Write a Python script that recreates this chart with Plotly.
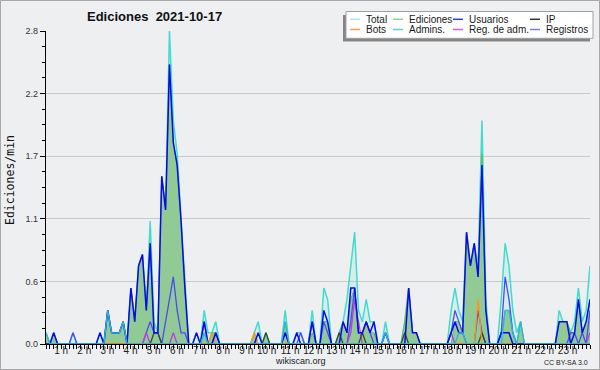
import plotly.graph_objects as go

# 10-minute buckets, value = edits per minute
minutes = list(range(0, 1420, 10))  # 0h00 .. 23h30

total = [
    0.1, 0, 0.1, 0, 0, 0, 0, 0.1, 0, 0, 0, 0,
    0, 0, 0.1, 0, 0.3, 0.1, 0.1, 0.1, 0.2, 0, 0.5, 0.2,
    0.7, 0.8, 0.3, 1.1, 0.2, 0.1, 1.5, 1.2, 2.8, 2.0, 1.7, 1.1,
    0.5, 0, 0, 0.1, 0, 0.3, 0.1, 0.1, 0.2, 0, 0, 0,
    0, 0, 0, 0, 0, 0, 0.1, 0.2, 0, 0.1, 0, 0,
    0, 0, 0.3, 0, 0, 0.1, 0.1, 0, 0, 0.3, 0, 0,
    0.5, 0.4, 0, 0, 0.1, 0.2, 0.4, 0.7, 1.0, 0.3, 0.2, 0.4,
    0.2, 0.2, 0, 0, 0.2, 0, 0, 0, 0, 0.2, 0.5, 0.1,
    0.1, 0, 0, 0, 0, 0, 0, 0, 0, 0.3, 0.5, 0.3,
    0.2, 1.0, 0.7, 0.9, 0.7, 2.0, 0.4, 0, 0, 0, 0.4, 0.9,
    0.7, 0.3, 0.1, 0.2, 0, 0, 0, 0, 0, 0, 0, 0,
    0, 0.3, 0.2, 0.2, 0.1, 0.2, 0.5, 0.2, 0.3, 0.7,
]
ediciones = [
    0.1, 0, 0.1, 0, 0, 0, 0, 0, 0, 0, 0, 0,
    0, 0, 0, 0, 0.3, 0.1, 0.1, 0.1, 0.2, 0, 0.5, 0.2,
    0.7, 0.8, 0.3, 0.9, 0.1, 0.1, 1.5, 1.2, 2.5, 1.8, 1.6, 1.1,
    0.5, 0, 0, 0, 0, 0.1, 0, 0.1, 0.1, 0, 0, 0,
    0, 0, 0, 0, 0, 0, 0.1, 0, 0, 0.1, 0, 0,
    0, 0, 0.2, 0, 0, 0, 0, 0, 0, 0.1, 0, 0,
    0.2, 0.2, 0, 0, 0.1, 0.2, 0.1, 0.4, 0.5, 0.1, 0.1, 0.2,
    0.1, 0.1, 0, 0, 0, 0, 0, 0, 0, 0.2, 0.5, 0.1,
    0.1, 0, 0, 0, 0, 0, 0, 0, 0, 0, 0.2, 0.2,
    0.1, 0.9, 0.7, 0.9, 0.6, 1.7, 0.3, 0, 0, 0, 0.1, 0.3,
    0.3, 0.1, 0, 0.2, 0, 0, 0, 0, 0, 0, 0, 0,
    0, 0.2, 0.2, 0.2, 0.1, 0.1, 0.4, 0.1, 0.2, 0.4,
]
usuarios = [
    0, 0, 0.1, 0, 0, 0, 0, 0, 0, 0, 0, 0,
    0, 0, 0.1, 0, 0.3, 0.1, 0.1, 0.1, 0.2, 0, 0.5, 0.2,
    0.7, 0.8, 0.3, 0.9, 0.1, 0.1, 1.5, 1.2, 2.5, 1.8, 1.6, 1.1,
    0.5, 0, 0, 0.1, 0, 0.2, 0, 0, 0.1, 0, 0, 0,
    0, 0, 0, 0, 0, 0, 0, 0.1, 0, 0, 0, 0,
    0, 0, 0.1, 0, 0, 0.1, 0, 0, 0, 0.2, 0, 0,
    0.3, 0.2, 0, 0, 0, 0.2, 0.1, 0.5, 0.5, 0.1, 0.1, 0.2,
    0.1, 0.2, 0, 0, 0.1, 0, 0, 0, 0, 0, 0.5, 0.1,
    0.1, 0, 0, 0, 0, 0, 0, 0, 0, 0.1, 0.2, 0.1,
    0.1, 1.0, 0.7, 0.9, 0.6, 1.6, 0.3, 0, 0, 0, 0.1, 0.1,
    0.1, 0, 0, 0, 0, 0, 0, 0, 0, 0, 0, 0,
    0, 0.2, 0.2, 0.2, 0, 0.1, 0.4, 0.1, 0.2, 0.4,
]
ip = [
    0, 0, 0, 0, 0, 0, 0, 0, 0, 0, 0, 0,
    0, 0, 0, 0, 0, 0, 0, 0, 0, 0, 0, 0,
    0, 0, 0, 0, 0.1, 0.1, 0, 0, 0, 0, 0, 0,
    0, 0, 0, 0, 0, 0, 0, 0, 0, 0, 0, 0,
    0, 0, 0, 0, 0, 0, 0, 0, 0, 0.1, 0, 0,
    0, 0, 0, 0, 0, 0, 0, 0, 0, 0, 0, 0,
    0, 0, 0, 0, 0.1, 0, 0, 0, 0, 0, 0.1, 0,
    0, 0, 0, 0, 0, 0, 0, 0, 0, 0.1, 0, 0,
    0, 0, 0, 0, 0, 0, 0, 0, 0, 0, 0, 0,
    0, 0, 0, 0, 0, 0.1, 0, 0, 0, 0, 0, 0,
    0, 0, 0, 0, 0, 0, 0, 0, 0, 0, 0, 0,
    0, 0, 0, 0, 0, 0, 0, 0, 0, 0,
]
bots = [
    0, 0, 0, 0, 0, 0, 0, 0, 0, 0, 0, 0,
    0, 0, 0, 0, 0, 0, 0, 0, 0, 0, 0, 0,
    0, 0, 0, 0, 0, 0, 0, 0, 0, 0, 0, 0,
    0, 0, 0, 0, 0, 0, 0, 0.1, 0, 0, 0, 0,
    0, 0, 0, 0, 0, 0, 0.1, 0, 0, 0, 0, 0,
    0, 0, 0, 0, 0, 0, 0, 0, 0, 0, 0, 0,
    0, 0, 0, 0, 0, 0, 0, 0, 0, 0, 0, 0,
    0, 0, 0, 0, 0, 0, 0, 0, 0, 0, 0, 0,
    0, 0, 0, 0, 0, 0, 0, 0, 0, 0, 0, 0,
    0, 0, 0, 0, 0.4, 0, 0, 0, 0, 0, 0, 0,
    0, 0, 0, 0, 0, 0, 0, 0, 0, 0, 0, 0,
    0, 0, 0, 0, 0, 0, 0, 0, 0, 0,
]
admins = [
    0.1, 0, 0, 0, 0, 0, 0, 0, 0, 0, 0, 0,
    0, 0, 0, 0, 0.3, 0.1, 0.1, 0.1, 0.2, 0, 0, 0,
    0, 0, 0, 0, 0, 0, 0, 0, 0, 0, 0, 0,
    0, 0, 0, 0, 0, 0.1, 0, 0, 0, 0, 0, 0,
    0, 0, 0, 0, 0, 0, 0, 0, 0, 0, 0, 0,
    0, 0, 0.2, 0, 0, 0, 0, 0, 0, 0, 0, 0,
    0, 0, 0, 0, 0, 0, 0, 0, 0, 0, 0, 0,
    0, 0, 0, 0, 0.1, 0, 0, 0, 0, 0, 0, 0,
    0, 0, 0, 0, 0, 0, 0, 0, 0, 0, 0, 0.1,
    0.1, 0, 0, 0, 0, 0, 0, 0, 0, 0, 0, 0.3,
    0.3, 0.1, 0, 0.2, 0, 0, 0, 0, 0, 0, 0, 0,
    0, 0, 0, 0, 0, 0, 0, 0, 0, 0,
]
reg_adm = [
    0, 0, 0, 0, 0, 0, 0, 0, 0, 0, 0, 0,
    0, 0, 0, 0, 0, 0, 0, 0, 0, 0, 0, 0,
    0, 0, 0.1, 0, 0, 0, 0, 0, 0, 0.1, 0, 0,
    0, 0, 0, 0, 0, 0, 0, 0, 0, 0, 0, 0,
    0, 0, 0, 0, 0, 0, 0, 0, 0, 0, 0, 0,
    0, 0, 0, 0, 0, 0, 0, 0, 0, 0, 0, 0,
    0, 0, 0, 0, 0, 0, 0, 0.1, 0.4, 0.2, 0, 0,
    0, 0, 0, 0, 0, 0, 0, 0, 0, 0, 0, 0,
    0, 0, 0, 0, 0, 0, 0, 0, 0, 0.1, 0, 0,
    0, 0, 0, 0, 0, 0, 0, 0, 0, 0, 0, 0,
    0, 0, 0, 0, 0, 0, 0, 0, 0, 0, 0, 0,
    0, 0, 0, 0, 0, 0, 0, 0, 0, 0.1,
]
registros = [
    0, 0, 0, 0, 0, 0, 0, 0.1, 0, 0, 0, 0,
    0, 0, 0, 0, 0, 0, 0, 0, 0, 0, 0, 0,
    0, 0, 0.1, 0.2, 0.1, 0.1, 0, 0.2, 0.4, 0.6, 0.3, 0.1,
    0.1, 0, 0, 0, 0, 0.2, 0, 0, 0.1, 0, 0, 0,
    0, 0, 0, 0, 0, 0, 0, 0, 0, 0, 0, 0,
    0, 0, 0.1, 0, 0, 0, 0.1, 0, 0, 0.2, 0, 0,
    0.2, 0.1, 0, 0, 0, 0, 0, 0.2, 0.5, 0.1, 0.1, 0.2,
    0.1, 0, 0, 0, 0, 0, 0, 0, 0, 0, 0, 0,
    0, 0, 0, 0, 0, 0, 0, 0, 0, 0.1, 0.3, 0.2,
    0.1, 0, 0, 0, 0.3, 0.1, 0, 0, 0, 0, 0.1, 0.6,
    0.4, 0.1, 0, 0, 0, 0, 0, 0, 0, 0, 0, 0,
    0, 0, 0, 0, 0.1, 0.1, 0, 0.1, 0, 0.3,
]

hours = list(range(1, 24))
hour_labels = [f"{h} h" for h in hours]
y_tickvals = [0, 0.56, 1.12, 1.68, 2.24, 2.8]
y_ticktext = ["0.0", "0.6", "1.1", "1.7", "2.2", "2.8"]

FONT = "Liberation Sans, Arial, sans-serif"

fig = go.Figure()
fig.add_trace(go.Scatter(x=minutes, y=total, mode="lines", fill="tozeroy",
                         fillcolor="rgba(64,224,208,0.13)",
                         line=dict(color="#40dccf", width=1.5)))
fig.add_trace(go.Scatter(x=minutes, y=ediciones, mode="lines", fill="tozeroy",
                         fillcolor="rgb(146,202,150)",
                         line=dict(color="#5fb66a", width=1)))
fig.add_trace(go.Scatter(x=minutes, y=registros, mode="lines",
                         line=dict(color="#4a4af5", width=1.3)))
fig.add_trace(go.Scatter(x=minutes, y=reg_adm, mode="lines",
                         line=dict(color="#c03ae0", width=1.3)))
fig.add_trace(go.Scatter(x=minutes, y=ip, mode="lines",
                         line=dict(color="#2f4a34", width=1.3)))
fig.add_trace(go.Scatter(x=minutes, y=bots, mode="lines",
                         line=dict(color="#f39a1a", width=1.3)))
fig.add_trace(go.Scatter(x=minutes, y=usuarios, mode="lines",
                         line=dict(color="#0a0ae6", width=1.5)))
fig.add_trace(go.Scatter(x=minutes, y=admins, mode="lines",
                         line=dict(color="#2fb4dc", width=1.3)))

L, R, T, B = 46, 590, 31, 344
W, H = R - L, B - T


def px(x):
    return (x - L) / W


def py(y):
    return (B - y) / H


shapes = []
# outer frame
shapes.append(dict(type="rect", xref="paper", yref="paper",
                   x0=px(0.5), x1=px(599.5), y0=py(0.5), y1=py(369.5),
                   line=dict(color="#a8a8a8", width=1), layer="below"))
# legend shadow + box
shapes.append(dict(type="rect", xref="paper", yref="paper",
                   x0=px(343), x1=px(590), y0=py(15), y1=py(41.5),
                   fillcolor="#858585", line=dict(width=0)))
shapes.append(dict(type="rect", xref="paper", yref="paper",
                   x0=px(346), x1=px(593), y0=py(11.5), y1=py(38.3),
                   fillcolor="white", line=dict(color="#a0a0a0", width=1)))

legend_items = [
    ("Total", "#aee9e0", 350, 19.3),
    ("Ediciones", "#8fd18f", 393, 19.3),
    ("Usuarios", "#3b3bdb", 453, 19.3),
    ("IP", "#333333", 530, 19.3),
    ("Bots", "#f5a040", 350, 29.5),
    ("Admins.", "#5ccfe0", 393, 29.5),
    ("Reg. de adm.", "#d45ae0", 453, 29.5),
    ("Registros", "#7b7bef", 530, 29.5),
]
annotations = []
for name, col, lx, ly in legend_items:
    shapes.append(dict(type="line", xref="paper", yref="paper",
                       x0=px(lx), x1=px(lx + 10), y0=py(ly), y1=py(ly),
                       line=dict(color=col, width=1.5)))
    annotations.append(dict(xref="paper", yref="paper", x=px(lx + 14), y=py(ly),
                            text=name, showarrow=False, xanchor="left", yanchor="middle",
                            font=dict(family=FONT, size=10, color="#1a1a1a")))

annotations.append(dict(xref="paper", yref="paper", x=px(154), y=py(16.5),
                        text="<b>Ediciones\u00a0 2021-10-17</b>", showarrow=False,
                        xanchor="center", yanchor="middle",
                        font=dict(family=FONT, size=13, color="#111")))
annotations.append(dict(xref="paper", yref="paper", x=px(10), y=py(180),
                        text="Ediciones/min", showarrow=False, textangle=-90,
                        xanchor="center", yanchor="middle",
                        font=dict(family="DejaVu Sans Mono, monospace", size=11.5, color="#111")))
annotations.append(dict(xref="paper", yref="paper", x=px(300.5), y=py(361),
                        text="wikiscan.org", showarrow=False,
                        xanchor="center", yanchor="middle",
                        font=dict(family=FONT, size=9, color="#222")))
annotations.append(dict(xref="paper", yref="paper", x=px(589.5), y=py(362.5),
                        text="CC BY-SA 3.0", showarrow=False,
                        xanchor="right", yanchor="middle",
                        font=dict(family=FONT, size=7, color="#222")))

fig.update_layout(
    width=600, height=370,
    margin=dict(l=L, r=600 - R, t=T, b=370 - B, pad=0, autoexpand=False),
    paper_bgcolor="#eeeff1", plot_bgcolor="#eeeff1",
    showlegend=False,
    shapes=shapes, annotations=annotations,
    font=dict(family=FONT, size=10, color="#222"),
)
fig.update_xaxes(
    range=[0, 1410], tickmode="array", tickvals=[h * 60 for h in hours], ticktext=hour_labels,
    tickangle=0, automargin=False,
    ticks="outside", ticklen=4, tickwidth=1, tickcolor="black",
    ticklabelposition="outside left", ticklabelstandoff=-3,
    showline=True, linecolor="black", linewidth=1.2,
    showgrid=False, zeroline=False,
    tickfont=dict(family=FONT, size=10, color="#222"),
    minor=dict(dtick=10, tick0=0, ticks="outside", ticklen=4, tickcolor="black",
               tickwidth=1, showgrid=False),
)
fig.update_yaxes(
    range=[0, 2.8], tickmode="array", tickvals=y_tickvals, ticktext=y_ticktext,
    automargin=False,
    ticks="outside", ticklen=5, tickwidth=1, tickcolor="black",
    showline=True, linecolor="black", linewidth=1.2,
    showgrid=True, gridcolor="#c9c9c9", gridwidth=1, zeroline=False,
    tickfont=dict(family=FONT, size=9, color="#333"),
    minor=dict(dtick=0.14, tick0=0, ticks="outside", ticklen=3, tickcolor="black",
               tickwidth=1, showgrid=False),
)

fig.write_html(
    "out.html",
    config={"displayModeBar": False},
    post_script="document.body.style.margin='0';document.body.style.padding='0';",
)
